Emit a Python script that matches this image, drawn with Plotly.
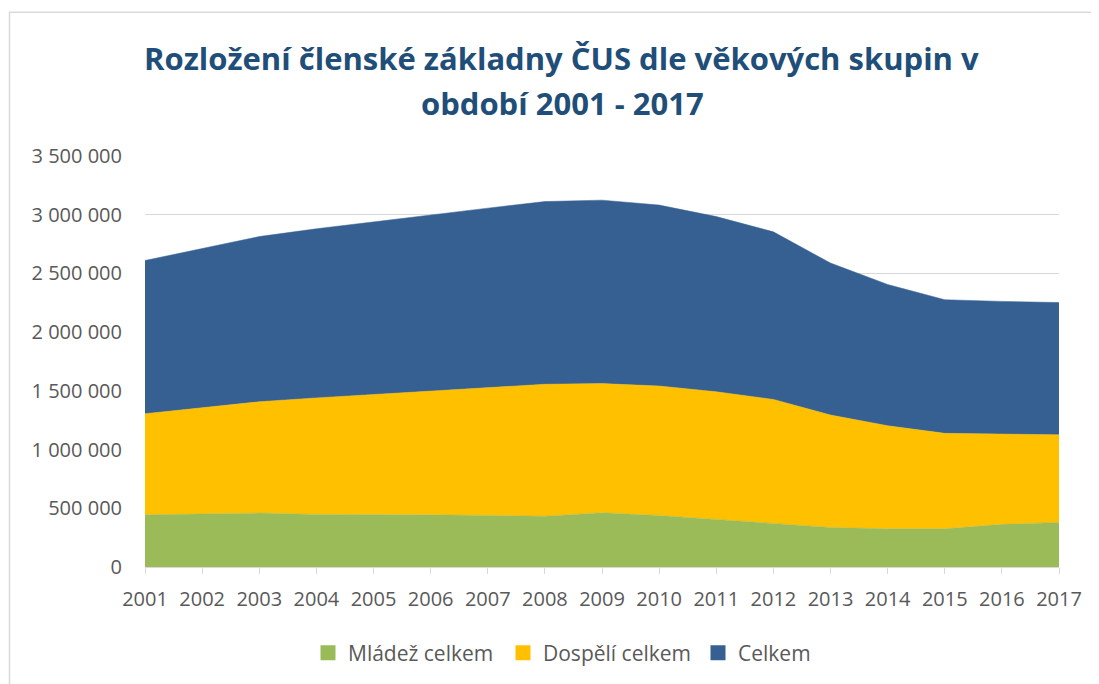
import plotly.graph_objects as go

years = [str(y) for y in range(2001, 2018)]
mladez = [444000, 450000, 459000, 448000, 448000, 444000, 439000, 433000, 461000,
          439000, 405000, 374000, 337000, 325000, 325000, 363000, 380000]
celkem = [1305000, 1356000, 1407000, 1440000, 1470000, 1501000, 1528000, 1556000, 1562000,
          1541000, 1492000, 1427000, 1294000, 1203000, 1138000, 1131000, 1126000]
dospeli = [c - m for c, m in zip(celkem, mladez)]

series = [
    ("Mládež celkem", mladez, "#9BBB59"),
    ("Dospělí celkem", dospeli, "#FFC000"),
    ("Celkem", celkem, "#376092"),
]

OFF = 8  # page body margin
W, H = 1099 - OFF, 684 - OFF
L, R, T, B = 145 - OFF, 40, 156 - OFF, 116
PW, PH = 914, 412


def px_x(x):
    return (x - 145) / PW


def px_y(y):
    return (568 - y) / PH


fig = go.Figure()
for name, vals, col in series:
    fig.add_trace(go.Scatter(
        x=years, y=vals, name=name, mode="lines", stackgroup="one",
        line=dict(width=0.5, color=col), fillcolor=col, showlegend=False,
        legendgroup=name,
    ))
# square legend keys
for name, vals, col in series:
    fig.add_trace(go.Scatter(
        x=[None], y=[None], name=name, mode="markers", legendgroup=name,
        marker=dict(symbol="square", size=15, color=col, line=dict(width=0)),
        hoverinfo="skip",
    ))

tickvals = list(range(0, 3500001, 500000))
title_font = dict(family="Open Sans", size=31, color="#1F4E79", weight="bold")
fig.update_layout(
    width=W, height=H,
    margin=dict(l=L, r=R, t=T, b=B),
    paper_bgcolor="white", plot_bgcolor="white",
    separators=", ",
    font=dict(family="Open Sans", size=20, color="#595959"),
    xaxis=dict(
        type="category", range=[0, 16], showgrid=False,
        showline=True, linecolor="#d9d9d9", linewidth=1,
        ticks="outside", ticklen=6, tickcolor="#d9d9d9",
        ticklabelstandoff=8,
        tickfont=dict(size=20, color="#595959"),
    ),
    yaxis=dict(
        range=[0, 3500000], tickvals=tickvals, tickformat=",d",
        showgrid=True, gridcolor="#d9d9d9", gridwidth=1,
        zeroline=False, showline=False, ticks="",
        ticklabelstandoff=22,
        tickfont=dict(size=20, color="#595959"),
    ),
    legend=dict(
        orientation="h", x=px_x(308), xanchor="left",
        y=px_y(653), yanchor="middle",
        font=dict(size=21, color="#595959"), traceorder="normal",
        entrywidth=150, entrywidthmode="pixels",
    ),
    annotations=[
        dict(text="Rozložení členské základny ČUS dle věkových skupin v",
             xref="paper", yref="paper", x=px_x(561), y=px_y(58),
             xanchor="center", yanchor="middle", showarrow=False, font=title_font),
        dict(text="období 2001 - 2017",
             xref="paper", yref="paper", x=px_x(562), y=px_y(103),
             xanchor="center", yanchor="middle", showarrow=False, font=title_font),
    ],
    shapes=[dict(
        type="rect", xref="paper", yref="paper",
        x0=px_x(9.5), x1=px_x(1110),
        y0=px_y(700), y1=px_y(12),
        line=dict(color="#d9d9d9", width=1.5), fillcolor="rgba(0,0,0,0)", layer="below",
    )],
)

fig.write_html("out.html")
